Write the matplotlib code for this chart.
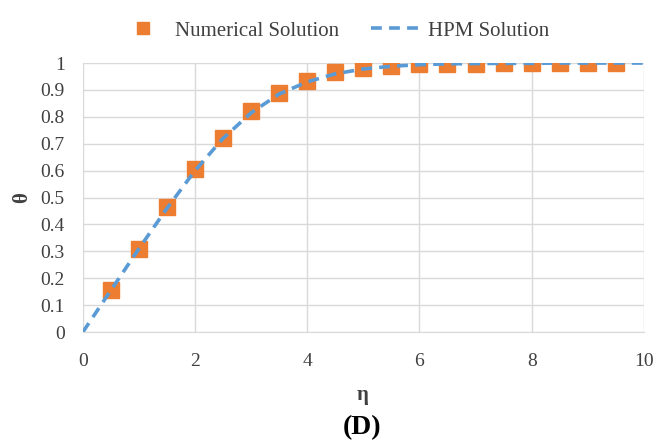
import matplotlib

matplotlib.use("Agg")
import matplotlib.pyplot as plt

# data
eta_num = [0.5, 1.0, 1.5, 2.0, 2.5, 3.0, 3.5, 4.0, 4.5, 5.0, 5.5, 6.0, 6.5, 7.0, 7.5, 8.0, 8.5, 9.0, 9.5]
theta_num = [0.155, 0.31, 0.465, 0.605, 0.72, 0.82, 0.89, 0.935, 0.965, 0.982, 0.99, 0.995, 0.997,
             0.998, 0.999, 0.999, 1.0, 1.0, 1.0]

eta_hpm = [0.0, 0.5, 1.0, 1.5, 2.0, 2.5, 3.0, 3.5, 4.0, 4.5, 5.0, 5.5, 6.0, 6.5, 7.0, 7.5, 8.0,
           8.5, 9.0, 9.5, 10.0]
theta_hpm = [0.0, 0.155, 0.31, 0.46, 0.60, 0.72, 0.815, 0.885, 0.93, 0.96, 0.978, 0.988, 0.994,
             0.997, 0.998, 0.999, 0.999, 1.0, 1.0, 1.0, 1.0]

x_ticks = [0, 2, 4, 6, 8, 10]
y_ticks = [0, 0.1, 0.2, 0.3, 0.4, 0.5, 0.6, 0.7, 0.8, 0.9, 1]

plt.rcParams["font.family"] = ["Liberation Serif", "DejaVu Serif"]

fig = plt.figure(figsize=(6.57, 4.44), dpi=100)
ax = fig.add_axes([0.126, 0.252, 0.854, 0.606])

ax.plot(eta_num, theta_num, linestyle="none", marker="s", markersize=11.5,
        color="#ED7D31", label="Numerical Solution", zorder=3)
line, = ax.plot(eta_hpm, theta_hpm, color="#5B9BD5", linewidth=2.6,
                label="HPM Solution", zorder=4)
line.set_dashes((3, 2))

ax.set_xlim(0, 10)
ax.set_ylim(0, 1)
ax.set_xticks(x_ticks)
ax.set_yticks(y_ticks)
ax.set_yticklabels([f"{v:g}" for v in y_ticks])
ax.grid(True, color="#D9D9D9", linewidth=1.0)
ax.set_axisbelow(True)
for side in ["top", "right", "left"]:
    ax.spines[side].set_visible(False)
ax.spines["bottom"].set_color("#D9D9D9")
ax.tick_params(length=0, labelsize=14, labelcolor="#404040")
ax.tick_params(axis="x", pad=15)
ax.tick_params(axis="y", pad=13)

# axis titles and panel tag placed as in the reference
fig.text(0.552, 0.110, "η", ha="center", va="center", fontsize=15,
         fontweight="bold", color="#404040")
fig.text(0.034, 0.554, "θ", ha="center", va="center", fontsize=15,
         fontweight="bold", color="#404040", rotation=90)
fig.text(0.551, 0.038, "(D)", ha="center", va="center", fontsize=20, fontweight="bold")

fig.legend(loc="upper center", bbox_to_anchor=(0.508, 0.995), ncol=2, frameon=False,
           fontsize=15, labelcolor="#404040", handlelength=2.3, columnspacing=1.5,
           handletextpad=0.43, markerscale=0.8)

fig.savefig("out.png", dpi=100)
plt.close(fig)
